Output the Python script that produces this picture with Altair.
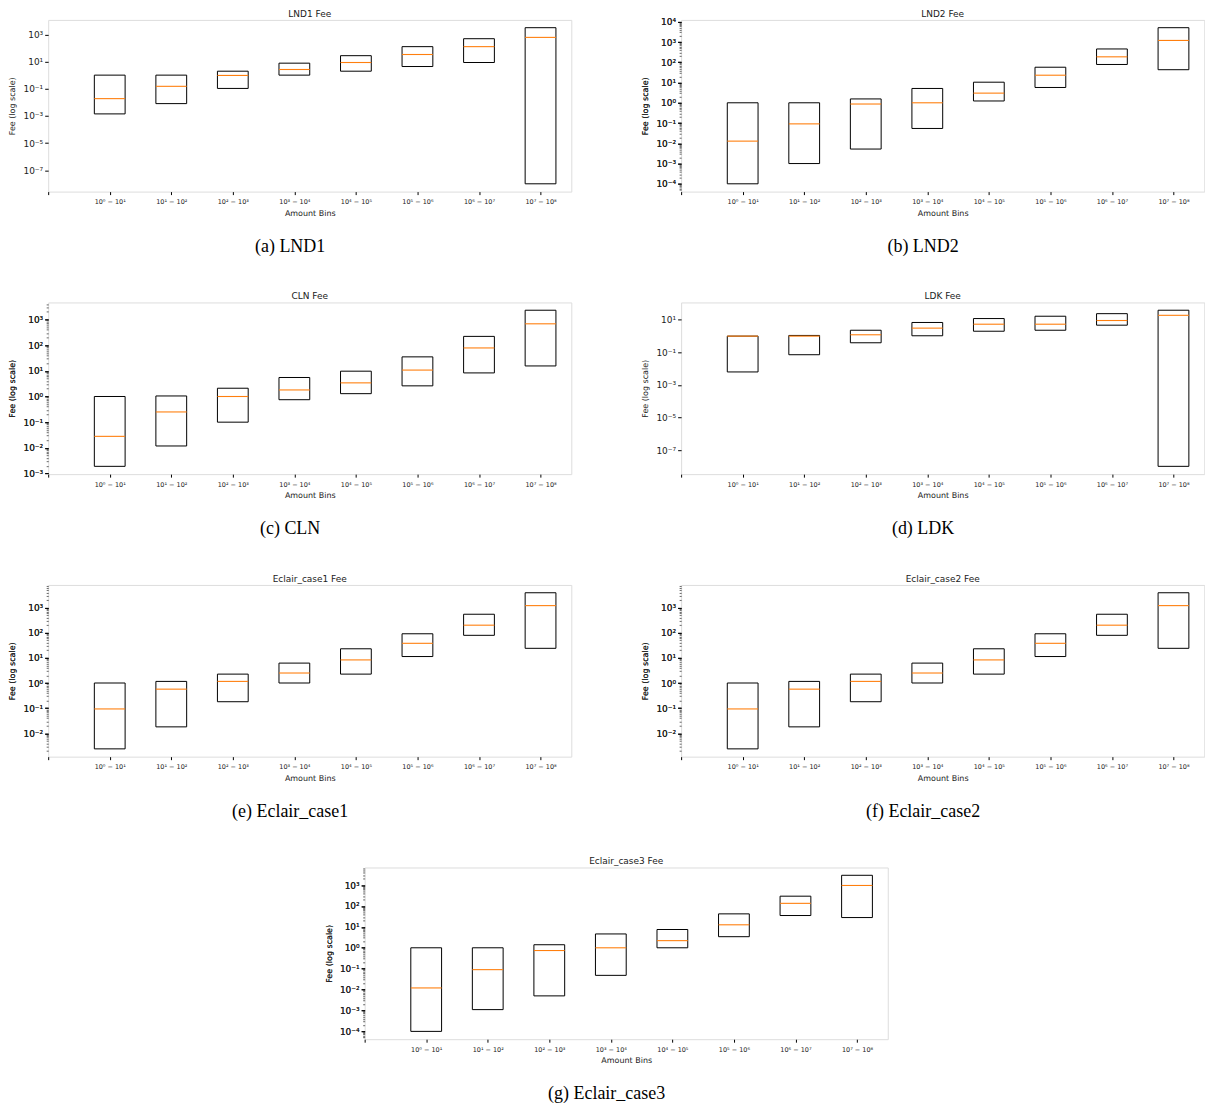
import json
import math
import altair as alt
import pandas as pd

# ---------------- data ----------------
bin_labels = ["", "10⁰ − 10¹", "10¹ − 10²", "10² − 10³", "10³ − 10⁴",
              "10⁴ − 10⁵", "10⁵ − 10⁶", "10⁶ − 10⁷", "10⁷ − 10⁸"]
positions = [1, 2, 3, 4, 5, 6, 7, 8]

lnd1_low = [0.0014, 0.008, 0.105, 1.0, 1.95, 4.3, 8.5, 1.0e-8]
lnd1_med = [0.0186, 0.15, 0.95, 2.6, 8.5, 33, 125, 600]
lnd1_high = [1.0, 1.0, 1.95, 7.6, 27, 125, 480, 3100]

lnd2_low = [1e-4, 1e-3, 0.0052, 0.054, 1.23, 5.7, 78, 43]
lnd2_med = [0.0128, 0.091, 0.87, 1.0, 3.0, 23, 186, 1200]
lnd2_high = [1.0, 1.0, 1.55, 5.1, 10.4, 57, 455, 5100]

cln_low = [0.0019, 0.0118, 0.1, 0.75, 1.29, 2.6, 8.3, 15.5]
cln_med = [0.028, 0.25, 1.0, 1.8, 3.4, 10.7, 78, 680]
cln_high = [1.0, 1.05, 2.1, 5.5, 9.7, 35, 220, 2300]

ldk_low = [0.0063, 0.072, 0.39, 1.05, 2.0, 2.3, 4.7, 1e-8]
ldk_med = [1.0, 1.0, 1.21, 3.1, 5.4, 5.4, 9.1, 19]
ldk_high = [1.0, 1.1, 2.3, 6.9, 12, 16.7, 24, 39]

eclair1_low = [0.0024, 0.018, 0.18, 1.0, 2.26, 11.3, 79, 24]
eclair1_med = [0.093, 0.57, 1.16, 2.5, 8.3, 38, 200, 1200]
eclair1_high = [1.0, 1.16, 2.26, 6.2, 23, 91, 545, 3900]

eclair2_low = [0.0024, 0.018, 0.18, 1.0, 2.26, 11.3, 79, 24]
eclair2_med = [0.093, 0.57, 1.16, 2.5, 8.3, 38, 200, 1200]
eclair2_high = [1.0, 1.16, 2.26, 6.2, 23, 91, 545, 3900]

eclair3_low = [1e-4, 1.1e-3, 0.005, 0.048, 1.0, 3.4, 35, 28]
eclair3_med = [0.012, 0.09, 0.74, 1.0, 2.2, 12.6, 134, 960]
eclair3_high = [1.0, 1.0, 1.4, 4.6, 7.5, 42, 295, 2950]

lnd1_ticks = [1e-7, 1e-5, 1e-3, 1e-1, 1e1, 1e3]
lnd2_ticks = [1e-4, 1e-3, 1e-2, 1e-1, 1e0, 1e1, 1e2, 1e3, 1e4]
cln_ticks = [1e-3, 1e-2, 1e-1, 1e0, 1e1, 1e2, 1e3]
ldk_ticks = [1e-7, 1e-5, 1e-3, 1e-1, 1e1]
eclair_ticks = [1e-2, 1e-1, 1e0, 1e1, 1e2, 1e3]
eclair3_ticks = [1e-4, 1e-3, 1e-2, 1e-1, 1e0, 1e1, 1e2, 1e3]

panels = [
    ("LND1 Fee", "(a) LND1", lnd1_low, lnd1_med, lnd1_high, lnd1_ticks, False),
    ("LND2 Fee", "(b) LND2", lnd2_low, lnd2_med, lnd2_high, lnd2_ticks, True),
    ("CLN Fee", "(c) CLN", cln_low, cln_med, cln_high, cln_ticks, True),
    ("LDK Fee", "(d) LDK", ldk_low, ldk_med, ldk_high, ldk_ticks, False),
    ("Eclair_case1 Fee", "(e) Eclair_case1", eclair1_low, eclair1_med, eclair1_high, eclair_ticks, True),
    ("Eclair_case2 Fee", "(f) Eclair_case2", eclair2_low, eclair2_med, eclair2_high, eclair_ticks, True),
    ("Eclair_case3 Fee", "(g) Eclair_case3", eclair3_low, eclair3_med, eclair3_high, eclair3_ticks, True),
]

# ---------------- styling ----------------
W, H = 524, 172
FONT = "DejaVu Sans"
ORANGE = "#ff7f0e"
TXT = "#222222"
LABEL_HALF = 3.5  # effective half height of a y tick label, px

SUP = str.maketrans("0123456789-", "⁰¹²³⁴⁵⁶⁷⁸⁹⁻")
exp_labels = ["10" + str(e).translate(SUP) for e in range(-10, 11)]
y_label_expr = json.dumps(exp_labels, ensure_ascii=False) + "[round(log(datum.value)/LN10)+10]"
x_label_expr = json.dumps(bin_labels, ensure_ascii=False) + "[round(datum.value)]"


def panel(title, caption, low, med, high, ticks, minor):
    df = pd.DataFrame({"pos": positions, "low": low, "med": med, "high": high})
    lo_l = math.log10(min(low))
    hi_l = math.log10(max(high))
    m = 0.05 * (hi_l - lo_l)
    domain = [10 ** (lo_l - m), 10 ** (hi_l + m)]
    yscale = alt.Scale(type="log", domain=domain, nice=False)
    xscale = alt.Scale(domain=[0, 8.5], nice=False, zero=False)

    # how far the top tick label pokes above the plot frame
    top_gap = H * (math.log10(domain[1]) - math.log10(max(ticks))) / (math.log10(domain[1]) - math.log10(domain[0]))
    overshoot = max(0.0, LABEL_HALF - top_gap)

    xaxis = alt.Axis(values=list(range(9)), labelExpr=x_label_expr, title="Amount Bins",
                     labelFontSize=6.5, titleFontSize=8, grid=False, domain=False,
                     tickSize=3, tickColor="black", labelColor=TXT, titleColor=TXT,
                     titleFontWeight="normal", labelPadding=4, titlePadding=4, labelFont=FONT,
                     titleFont=FONT)
    yaxis = alt.Axis(values=ticks, labelExpr=y_label_expr, title="Fee (log scale)",
                     labelFontSize=9, titleFontSize=8, grid=False, domain=False,
                     tickSize=3.5, tickColor="black", labelColor=TXT, titleColor=TXT,
                     titleFontWeight="normal", labelPadding=2, titlePadding=6, labelFont=FONT,
                     titleFont=FONT, orient="left")

    base = alt.Chart(df).transform_calculate(
        xl="datum.pos - 0.25", xr="datum.pos + 0.25"
    )
    box = base.mark_rect(fillOpacity=0, stroke="black", strokeWidth=1).encode(
        x=alt.X("xl:Q", scale=xscale, axis=xaxis),
        x2="xr:Q",
        y=alt.Y("low:Q", scale=yscale, axis=yaxis),
        y2="high:Q",
    )
    medl = base.mark_rule(color=ORANGE, strokeWidth=1.1).encode(
        x=alt.X("xl:Q", scale=xscale, axis=xaxis),
        x2="xr:Q",
        y=alt.Y("med:Q", scale=yscale, axis=yaxis),
    )
    layers = [box, medl]
    if minor:
        mvals = []
        for k in range(int(math.floor(math.log10(domain[0]))), int(math.ceil(math.log10(domain[1]))) + 1):
            for mm in range(2, 10):
                v = mm * 10 ** k
                if domain[0] <= v <= domain[1]:
                    mvals.append(v)
        minor_axis = alt.Axis(values=mvals, labels=False, title=None, grid=False, domain=False,
                              tickSize=2, tickColor="black", tickWidth=0.6, orient="left")
        mlayer = base.mark_point(opacity=0).encode(
            x=alt.X("pos:Q", scale=xscale, axis=xaxis),
            y=alt.Y("med:Q", scale=yscale, axis=minor_axis),
        )
        layers.append(mlayer)
    ch = alt.layer(*layers).properties(
        width=W, height=H,
        title=alt.TitleParams(title, fontSize=9, font=FONT, fontWeight="normal", color=TXT,
                              offset=round(1 - overshoot), frame="group", anchor="middle"),
    )
    if minor:
        ch = ch.resolve_axis(y="independent")
    return alt.vconcat(
        ch,
        title=alt.TitleParams(caption, orient="bottom", font="Liberation Serif", fontSize=18,
                              fontWeight="normal", color="black", offset=20, anchor="middle"),
    )


charts = [panel(*p) for p in panels]

row1 = alt.hconcat(charts[0], charts[1], spacing=69)
row2 = alt.hconcat(charts[2], charts[3], spacing=69)
row3 = alt.hconcat(charts[4], charts[5], spacing=69)

chart = alt.vconcat(row1, row2, row3, charts[6], spacing=36, center=True).configure_view(
    stroke="#333333", strokeWidth=1
).configure(padding=0, font=FONT, background="white")

chart.save("out.html", embed_options={"renderer": "svg", "actions": False})
